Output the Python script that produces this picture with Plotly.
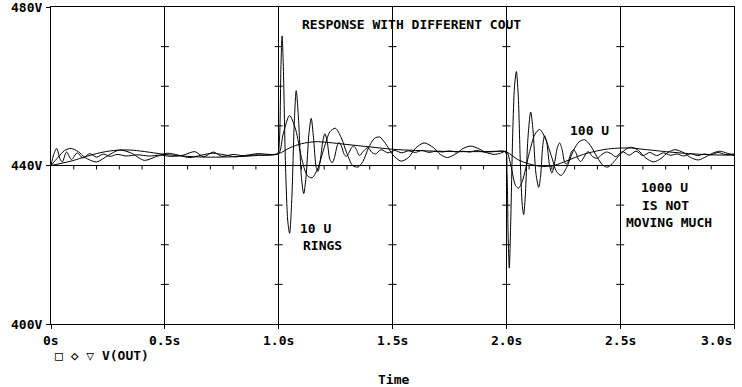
import plotly.graph_objects as go

# ---------------- data ----------------
t_10u = [0.000, 0.012, 0.025, 0.040, 0.050, 0.068, 0.090, 0.115, 0.140, 0.170, 0.200, 0.230, 0.260, 0.290,
         0.330, 0.380, 0.430, 0.480, 0.530, 0.580, 0.632, 0.670, 0.713, 0.750, 0.800, 0.850, 0.900, 0.950,
         0.995, 1.003, 1.010, 1.015, 1.020, 1.030, 1.040, 1.048, 1.058, 1.068, 1.077, 1.087, 1.100, 1.110,
         1.120, 1.133, 1.143, 1.153, 1.165, 1.173, 1.182, 1.195, 1.203, 1.212, 1.225, 1.235, 1.245, 1.257,
         1.265, 1.275, 1.288, 1.297, 1.307, 1.320, 1.329, 1.340, 1.355, 1.372, 1.392, 1.410, 1.425, 1.450,
         1.480, 1.510, 1.540, 1.570, 1.600, 1.630, 1.660, 1.690, 1.720, 1.750, 1.780, 1.810, 1.840, 1.870,
         1.900, 1.950, 1.995, 2.003, 2.008, 2.013, 2.019, 2.028, 2.036, 2.044, 2.052, 2.062, 2.070, 2.076,
         2.083, 2.095, 2.107, 2.117, 2.130, 2.142, 2.150, 2.160, 2.168, 2.177, 2.190, 2.200, 2.210, 2.224,
         2.234, 2.245, 2.255, 2.263, 2.272, 2.285, 2.295, 2.305, 2.316, 2.326, 2.336, 2.350, 2.360, 2.380,
         2.400, 2.420, 2.440, 2.460, 2.480, 2.510, 2.540, 2.570, 2.600, 2.630, 2.660, 2.690, 2.720, 2.750,
         2.780, 2.810, 2.840, 2.870, 2.900, 2.930, 2.960, 3.000]
v_10u = [440.0, 442.8, 444.3, 441.6, 440.9, 443.4, 441.5, 443.2, 441.9, 443.0, 442.1, 442.9, 442.3, 442.8,
         442.4, 442.7, 442.4, 442.6, 442.3, 442.6, 443.5, 442.2, 443.4, 442.3, 442.8, 442.4, 442.7, 442.6,
         443.0, 446.0, 465.0, 472.7, 466.0, 440.0, 426.0, 422.9, 432.0, 450.0, 458.9, 452.0, 437.0, 432.9,
         437.0, 448.0, 451.9, 447.0, 439.5, 438.5, 441.0, 446.5, 448.0, 446.5, 441.5, 440.7, 442.0, 445.0,
         445.8, 445.0, 442.8, 442.3, 443.0, 444.5, 444.9, 444.2, 442.5, 443.6, 444.5, 443.3, 442.9, 444.0,
         443.2, 443.8, 443.2, 443.7, 443.3, 443.8, 443.3, 443.6, 443.4, 443.7, 443.4, 443.6, 443.4, 443.8,
         443.4, 443.5, 443.5, 438.0, 422.0, 414.1, 425.0, 448.0, 460.0, 463.7, 458.0, 440.0, 430.0, 427.6,
         432.0, 447.0, 453.5, 449.0, 438.0, 434.5, 437.0, 445.0, 447.5, 446.0, 440.0, 438.1, 440.0, 444.5,
         445.7, 444.0, 441.0, 440.3, 441.0, 443.3, 444.0, 443.3, 441.6, 441.0, 441.6, 443.0, 443.5, 442.2,
         441.8, 442.8, 443.4, 443.0, 442.2, 443.5, 442.6, 443.6, 442.5, 443.3, 442.5, 443.2, 442.6, 442.9,
         442.4, 443.0, 442.5, 442.9, 442.7, 443.3, 442.8, 442.9]

t_100u = [0.000, 0.030, 0.060, 0.089, 0.120, 0.150, 0.200, 0.250, 0.300, 0.350, 0.410, 0.460, 0.510, 0.560,
          0.610, 0.660, 0.710, 0.760, 0.810, 0.860, 0.910, 0.960, 1.000, 1.020, 1.048, 1.075, 1.100, 1.125,
          1.146, 1.170, 1.200, 1.225, 1.249, 1.275, 1.300, 1.325, 1.348, 1.370, 1.395, 1.420, 1.443, 1.470,
          1.500, 1.537, 1.570, 1.600, 1.639, 1.680, 1.710, 1.741, 1.780, 1.810, 1.844, 1.880, 1.910, 1.946,
          1.975, 2.000, 2.020, 2.040, 2.053, 2.070, 2.100, 2.125, 2.146, 2.170, 2.200, 2.220, 2.241, 2.265,
          2.295, 2.320, 2.344, 2.370, 2.400, 2.425, 2.446, 2.470, 2.500, 2.530, 2.551, 2.580, 2.610, 2.646,
          2.680, 2.710, 2.741, 2.780, 2.810, 2.844, 2.880, 2.910, 2.939, 2.970, 3.000]
v_100u = [440.0, 442.0, 443.8, 444.3, 443.5, 442.0, 440.9, 442.5, 443.9, 443.2, 441.3, 442.2, 443.1, 442.6,
          442.0, 442.6, 443.1, 442.7, 442.2, 442.6, 443.0, 442.8, 443.0, 448.0, 452.6, 449.0, 442.0, 437.5,
          436.9, 439.0, 444.5, 448.5, 449.4, 447.0, 443.0, 440.0, 439.6, 441.0, 444.5, 446.8, 447.2, 445.5,
          442.8, 441.1, 442.0, 444.3, 445.7, 444.5, 442.8, 442.0, 443.0, 444.3, 444.9, 444.2, 443.3, 442.8,
          443.1, 443.6, 440.0, 435.0, 434.3, 436.0, 443.0, 447.8, 449.1, 447.0, 442.0, 438.5, 437.5, 439.5,
          443.8, 446.0, 446.5, 445.0, 442.0, 440.0, 439.6, 440.8, 442.8, 444.3, 444.6, 443.8, 442.0, 440.9,
          441.8, 443.3, 444.0, 443.2, 442.0, 441.4, 442.3, 443.2, 443.6, 443.1, 442.6]

t_1000u = [0.00, 0.05, 0.10, 0.15, 0.20, 0.25, 0.30, 0.35, 0.40, 0.45, 0.50, 0.60, 0.70, 0.80, 0.90, 1.00,
           1.05, 1.10, 1.16, 1.22, 1.30, 1.40, 1.50, 1.60, 1.70, 1.80, 1.90, 2.00, 2.05, 2.10, 2.15, 2.20,
           2.25, 2.30, 2.35, 2.40, 2.45, 2.50, 2.55, 2.60, 2.70, 2.80, 2.90, 3.00]
v_1000u = [440.0, 440.6, 441.3, 442.2, 443.0, 443.6, 443.9, 443.9, 443.6, 443.2, 442.8, 442.3, 442.1, 442.2,
           442.5, 443.0, 444.5, 445.5, 446.0, 445.8, 445.3, 444.7, 444.1, 443.8, 443.6, 443.5, 443.5, 443.4,
           441.5, 440.4, 439.8, 439.9, 440.8, 442.0, 443.0, 443.7, 444.2, 444.4, 444.4, 444.1, 443.5, 443.0,
           442.7, 442.6]

x_ticks = [0.0, 0.5, 1.0, 1.5, 2.0, 2.5, 3.0]
x_tick_labels = ["0s", "0.5s", "1.0s", "1.5s", "2.0s", "2.5s", "3.0s"]
y_ticks = [400, 440, 480]
y_tick_labels = ["400V", "440V", "480V"]
grid_minor_v = [410, 420, 430, 450, 460, 470]
line_minor_t = [0.1, 0.2, 0.3, 0.4, 0.6, 0.7, 0.8, 0.9, 1.1, 1.2, 1.3, 1.4, 1.6, 1.7, 1.8, 1.9,
                2.1, 2.2, 2.3, 2.4, 2.6, 2.7, 2.8, 2.9]

FONT = "DejaVu Sans Mono"
FS = 13

fig = go.Figure()
for t, v in [(t_1000u, v_1000u), (t_100u, v_100u), (t_10u, v_10u)]:
    fig.add_trace(go.Scatter(x=t, y=v, mode="lines",
                             line=dict(color="black", width=1, shape="spline", smoothing=0.8),
                             hoverinfo="skip", showlegend=False))

shapes = [dict(type="line", xref="paper", x0=0, x1=1, yref="y", y0=440, y1=440,
               line=dict(color="black", width=1))]
for gx in x_ticks[1:-1]:
    for mv in grid_minor_v:
        shapes.append(dict(type="line", xref="x", xsizemode="pixel", xanchor=gx, x0=-4, x1=4,
                           yref="y", y0=mv, y1=mv, line=dict(color="black", width=1)))
for mt in line_minor_t:
    shapes.append(dict(type="line", xref="x", x0=mt, x1=mt, yref="y", ysizemode="pixel",
                       yanchor=440, y0=0, y1=-4, line=dict(color="black", width=1)))

ann = []
for i, (xt, lab) in enumerate(zip(x_ticks, x_tick_labels)):
    anchor = "right" if i == len(x_ticks) - 1 else "center"
    ann.append(dict(x=xt, xref="x", y=0, yref="paper", yanchor="middle", yshift=-16,
                    xanchor=anchor, text="<b>%s</b>" % lab, showarrow=False,
                    font=dict(family=FONT, size=FS, color="black")))
for yt, lab in zip(y_ticks, y_tick_labels):
    ann.append(dict(x=0, xref="paper", xanchor="right", xshift=-7, y=yt, yref="y", yanchor="middle",
                    text="<b>%s</b>" % lab, showarrow=False,
                    font=dict(family=FONT, size=FS, color="black")))

texts = [
    ("RESPONSE WITH DIFFERENT COUT", 411, 25),
    ("100 U", 589, 130),
    ("1000 U", 664, 187),
    ("IS NOT", 665, 205),
    ("MOVING MUCH", 669, 222),
    ("10 U", 315, 228),
    ("RINGS", 322, 245),
    ("Time", 393, 379),
]
for txt, px, py in texts:
    ann.append(dict(x=(px - 51) / 683, xref="paper", y=(387 - py - 63) / 317, yref="paper",
                    xanchor="center", yanchor="middle", text="<b>%s</b>" % txt, showarrow=False,
                    font=dict(family=FONT, size=FS, color="black")))
ann.append(dict(x=(53 - 51) / 683, xref="paper", xanchor="left", y=(387 - 355.5 - 63) / 317, yref="paper",
                yanchor="middle", text="<b>□ ◇ ▽ V(OUT)</b>", showarrow=False,
                font=dict(family=FONT, size=FS, color="black")))

fig.update_layout(
    width=742, height=387,
    margin=dict(l=51, r=8, t=7, b=63),
    paper_bgcolor="white", plot_bgcolor="white",
    shapes=shapes, annotations=ann,
    xaxis=dict(range=[0, 3], tick0=0, dtick=0.5, showgrid=True, gridcolor="black", gridwidth=1,
               showline=True, mirror=True, linecolor="black", linewidth=1,
               ticks="outside", ticklen=4, tickcolor="black", showticklabels=False, zeroline=False),
    yaxis=dict(range=[400, 480], tickvals=y_ticks, showgrid=False,
               showline=True, mirror=True, linecolor="black", linewidth=1,
               ticks="outside", ticklen=4, tickcolor="black", showticklabels=False, zeroline=False),
)

fig.write_html("out.html", config={"displayModeBar": False},
               post_script="document.body.style.margin='0';document.body.style.overflow='hidden';")
